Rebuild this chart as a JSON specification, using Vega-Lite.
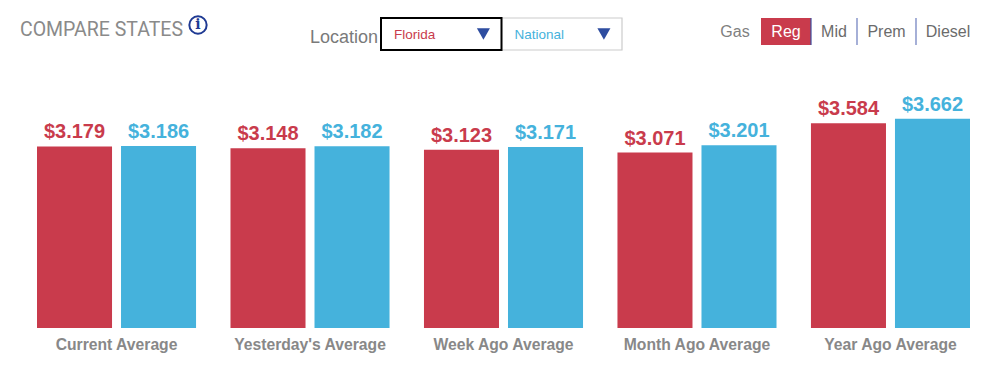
{
"$schema":"https://vega.github.io/schema/vega-lite/v6.json",
"width":933,"height":229,"autosize":"none",
"padding":{"left":37,"top":99,"right":30,"bottom":41},
"background":"white",
"config":{"view":{"stroke":null},"text":{"font":"Liberation Sans"}},
"resolve":{"scale":{"x":"independent","y":"independent","color":"independent","xOffset":"independent"}},
"layer":[
{"data":{"values":[
{"period":"Current Average","location":"Florida","price":3.179},
{"period":"Current Average","location":"National","price":3.186},
{"period":"Yesterday's Average","location":"Florida","price":3.148},
{"period":"Yesterday's Average","location":"National","price":3.182},
{"period":"Week Ago Average","location":"Florida","price":3.123},
{"period":"Week Ago Average","location":"National","price":3.171},
{"period":"Month Ago Average","location":"Florida","price":3.071},
{"period":"Month Ago Average","location":"National","price":3.201},
{"period":"Year Ago Average","location":"Florida","price":3.584},
{"period":"Year Ago Average","location":"National","price":3.662}]},
"encoding":{
"x":{"field":"period","type":"nominal","sort":null,"title":null,"scale":{"paddingInner":0.178,"paddingOuter":0},
"axis":{"domain":false,"ticks":false,"labelAngle":0,"labelPadding":9,"labelFont":"Liberation Sans","labelFontSize":15.7,"labelFontWeight":"bold","labelColor":"#888888"}},
"xOffset":{"field":"location","type":"nominal","sort":null,"scale":{"paddingInner":0.107,"paddingOuter":0}},
"y":{"field":"price","type":"quantitative","scale":{"domain":[0,4.01],"nice":false},"axis":null},
"color":{"field":"location","type":"nominal","scale":{"domain":["Florida","National"],"range":["#c93b4c","#45b2dc"]},"legend":null}
},
"layer":[
{"mark":{"type":"bar"}},
{"mark":{"type":"text","baseline":"alphabetic","dy":-8,"fontSize":20,"fontWeight":"bold"},"encoding":{"text":{"field":"price","type":"quantitative","format":"$.3f"}}}
]},
{"data":{"values":[{"item":"COMPARE STATES"}]},
"mark":{"type":"text","font":"Roboto","fontSize":19.5,"color":"#8a8a8a","align":"center","baseline":"middle"},
"encoding":{"text":{"field":"item"},
"x":{"field":"item","type":"nominal","scale":{"domain":["COMPARE STATES"],"range":[-18,147],"paddingInner":0,"paddingOuter":0},"axis":null},
"y":{"field":"item","type":"nominal","scale":{"domain":["COMPARE STATES"],"range":[-84,-54],"paddingInner":0,"paddingOuter":0},"axis":null}}},
{"data":{"values":[{"item":"info"}]},
"encoding":{"x":{"field":"item","type":"nominal","scale":{"domain":["info"],"range":[151,171],"paddingInner":0,"paddingOuter":0},"axis":null},
"y":{"field":"item","type":"nominal","scale":{"domain":["info"],"range":[-84,-64],"paddingInner":0,"paddingOuter":0},"axis":null}},
"layer":[
{"mark":{"type":"point","filled":false,"shape":"circle","size":300,"strokeWidth":2,"opacity":1,"color":"#1f3a93"}},
{"mark":{"type":"text","text":"i","font":"DejaVu Serif","fontWeight":"bold","fontSize":14,"color":"#1f3a93","baseline":"middle"}}
]},
{"data":{"values":[{"item":"Location"}]},
"mark":{"type":"text","fontSize":18,"color":"#7a7a7a","align":"center","baseline":"middle"},
"encoding":{"text":{"field":"item"},
"x":{"field":"item","type":"nominal","scale":{"domain":["Location"],"range":[273,341],"paddingInner":0,"paddingOuter":0},"axis":null},
"y":{"field":"item","type":"nominal","scale":{"domain":["Location"],"range":[-76,-46],"paddingInner":0,"paddingOuter":0},"axis":null}}},
{"data":{"values":[{"location":"National"},{"location":"Florida"}]},
"encoding":{
"x":{"field":"location","type":"nominal","scale":{"domain":["Florida","National"],"range":[344,585],"paddingInner":0,"paddingOuter":0},"axis":null},
"y":{"datum":"box","type":"nominal","scale":{"domain":["box"],"range":[-81,-49],"paddingInner":0,"paddingOuter":0},"axis":null},
"color":{"field":"location","type":"nominal","scale":{"domain":["Florida","National"],"range":["#c93b4c","#45b2dc"]},"legend":null}},
"layer":[
{"mark":{"type":"rect","fill":"white"},"encoding":{"color":{"value":null},
"stroke":{"field":"location","type":"nominal","scale":{"domain":["Florida","National"],"range":["#000000","#cccccc"]},"legend":null},
"strokeWidth":{"field":"location","type":"nominal","scale":{"domain":["Florida","National"],"range":[2,1.2]},"legend":null}}},
{"mark":{"type":"text","align":"left","dx":13,"dy":1,"baseline":"middle","fontSize":13.5},"encoding":{"text":{"field":"location"},"x":{"field":"location","type":"nominal","bandPosition":0,"scale":{"domain":["Florida","National"],"range":[344,585],"paddingInner":0,"paddingOuter":0},"axis":null}}},
{"mark":{"type":"point","shape":"triangle-down","filled":true,"size":170,"opacity":1},"encoding":{"color":{"value":"#2e4da0"},"x":{"field":"location","type":"nominal","bandPosition":0.85,"scale":{"domain":["Florida","National"],"range":[344,585],"paddingInner":0,"paddingOuter":0},"axis":null}}}
]},
{"data":{"values":[{"grade":"Gas"}]},
"mark":{"type":"text","fontSize":16,"color":"#808080","baseline":"middle"},
"encoding":{"text":{"field":"grade"},
"x":{"field":"grade","type":"nominal","scale":{"domain":["Gas"],"range":[683,713],"paddingInner":0,"paddingOuter":0},"axis":null},
"y":{"field":"grade","type":"nominal","scale":{"domain":["Gas"],"range":[-81,-54],"paddingInner":0,"paddingOuter":0},"axis":null}}},
{"data":{"values":[{"grade":"Reg"}]},
"encoding":{
"x":{"field":"grade","type":"nominal","scale":{"domain":["Reg"],"range":[724,774],"paddingInner":0,"paddingOuter":0},"axis":null},
"y":{"field":"grade","type":"nominal","scale":{"domain":["Reg"],"range":[-81,-54],"paddingInner":0,"paddingOuter":0},"axis":null}},
"layer":[
{"mark":{"type":"rect","color":"#c93b4c"}},
{"mark":{"type":"tick","orient":"vertical","size":27,"thickness":1.2,"opacity":1,"color":"#3d4f9f"},"encoding":{"x":{"field":"grade","type":"nominal","bandPosition":1,"scale":{"domain":["Reg"],"range":[724,774],"paddingInner":0,"paddingOuter":0},"axis":null}}},
{"mark":{"type":"text","fontSize":16,"color":"white","baseline":"middle"},"encoding":{"text":{"field":"grade"}}}
]},
{"data":{"values":[{"grade":"Mid"}]},
"encoding":{
"x":{"field":"grade","type":"nominal","scale":{"domain":["Mid"],"range":[774,820],"paddingInner":0,"paddingOuter":0},"axis":null},
"y":{"field":"grade","type":"nominal","scale":{"domain":["Mid"],"range":[-81,-54],"paddingInner":0,"paddingOuter":0},"axis":null}},
"layer":[
{"mark":{"type":"tick","orient":"vertical","size":27,"thickness":1.2,"opacity":1,"color":"#6a7bbd"},"encoding":{"x":{"field":"grade","type":"nominal","bandPosition":1,"scale":{"domain":["Mid"],"range":[774,820],"paddingInner":0,"paddingOuter":0},"axis":null}}},
{"mark":{"type":"text","fontSize":16,"color":"#6b6b6b","baseline":"middle"},"encoding":{"text":{"field":"grade"}}}
]},
{"data":{"values":[{"grade":"Prem"}]},
"encoding":{
"x":{"field":"grade","type":"nominal","scale":{"domain":["Prem"],"range":[820,879],"paddingInner":0,"paddingOuter":0},"axis":null},
"y":{"field":"grade","type":"nominal","scale":{"domain":["Prem"],"range":[-81,-54],"paddingInner":0,"paddingOuter":0},"axis":null}},
"layer":[
{"mark":{"type":"tick","orient":"vertical","size":27,"thickness":1.2,"opacity":1,"color":"#6a7bbd"},"encoding":{"x":{"field":"grade","type":"nominal","bandPosition":1,"scale":{"domain":["Prem"],"range":[820,879],"paddingInner":0,"paddingOuter":0},"axis":null}}},
{"mark":{"type":"text","fontSize":16,"color":"#6b6b6b","baseline":"middle"},"encoding":{"text":{"field":"grade"}}}
]},
{"data":{"values":[{"grade":"Diesel"}]},
"mark":{"type":"text","fontSize":16,"color":"#6b6b6b","baseline":"middle"},
"encoding":{"text":{"field":"grade"},
"x":{"field":"grade","type":"nominal","scale":{"domain":["Diesel"],"range":[879,943],"paddingInner":0,"paddingOuter":0},"axis":null},
"y":{"field":"grade","type":"nominal","scale":{"domain":["Diesel"],"range":[-81,-54],"paddingInner":0,"paddingOuter":0},"axis":null}}}
]
}
